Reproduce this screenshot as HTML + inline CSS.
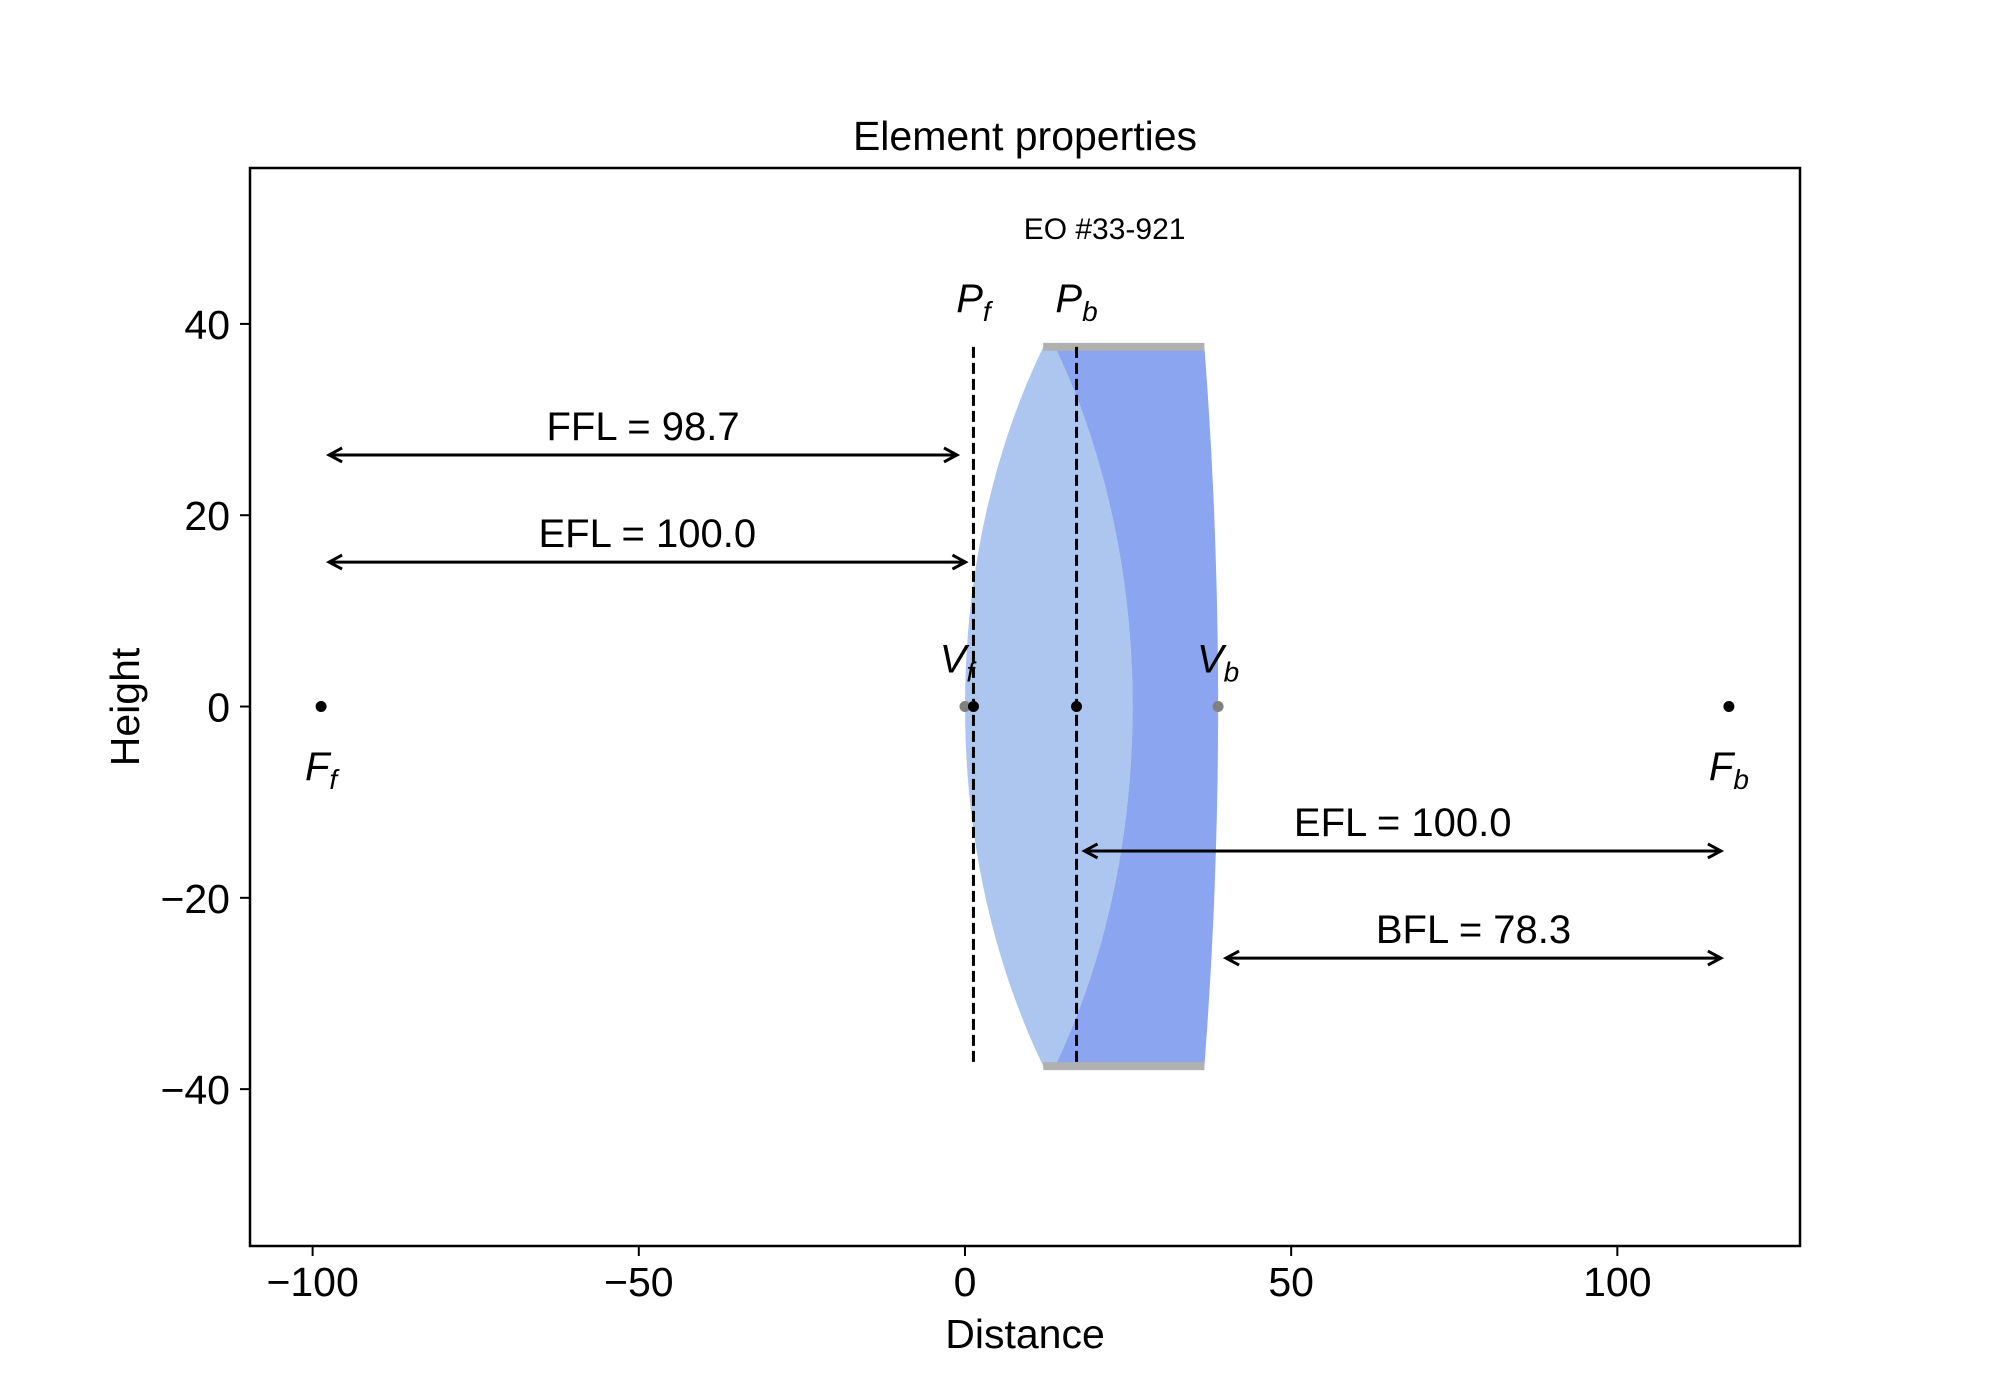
<!DOCTYPE html>
<html><head><meta charset="utf-8">
<style>
html,body{margin:0;padding:0;background:#fff;}
svg{display:block;font-family:"Liberation Sans",sans-serif;}
</style></head>
<body>
<svg id="chart" width="2000" height="1400" viewBox="0 0 2000 1400" xmlns="http://www.w3.org/2000/svg">
<rect x="0" y="0" width="2000" height="1400" fill="#fff"/>
<g id="plot"></g>
</svg>
<script>
// ---- data ----
const xTicks = [-100, -50, 0, 50, 100];
const yTicks = [-40, -20, 0, 20, 40];
const xLim = [-109.6, 128.0];
const yLim = [-56.4, 56.3];
// cardinal points (x positions)
const pointNames = ["Ff", "Vf", "Pf", "Pb", "Vb", "Fb"];
const pointX = [-98.7, 0.0, 1.3, 17.1, 38.8, 117.1];
const pointColor = ["black", "gray", "black", "black", "gray", "black"];
// lens surfaces: vertex x, edge x
const surfVertex = [0.0, 25.7, 38.8];
const surfEdge = [12.0, 13.8, 36.7];
const lensHalfHeight = 37.6;
// distance arrows
const arrowLabels = ["FFL = 98.7", "EFL = 100.0", "EFL = 100.0", "BFL = 78.3"];
const arrowStart = [-98.7, -98.7, 17.1, 38.8];
const arrowEnd = [0.0, 1.3, 117.1, 117.1];
const arrowY = [26.3, 15.1, -15.1, -26.3];

// ---- axes ----
const L = 250, R = 1800, T = 168, B = 1246;
const sx = v => L + (v - xLim[0]) / (xLim[1] - xLim[0]) * (R - L);
const sy = v => B - (v - yLim[0]) / (yLim[1] - yLim[0]) * (B - T);
const NS = "http://www.w3.org/2000/svg";
const g = document.getElementById('plot');
function mk(tag, attrs, parent) {
  const e = document.createElementNS(NS, tag);
  for (const k in attrs) e.setAttribute(k, attrs[k]);
  (parent || g).appendChild(e);
  return e;
}

// lens regions
function surfPts(i, flip) {
  const v = surfVertex[i], e = surfEdge[i], h = lensHalfHeight;
  const s = e - v; // signed sag
  const Rr = (h * h + s * s) / (2 * s);
  const pts = [];
  const N = 40;
  for (let k = 0; k <= N; k++) {
    const y = flip ? (-h + 2 * h * k / N) : (h - 2 * h * k / N);
    const x = v + Rr - Math.sign(Rr) * Math.sqrt(Rr * Rr - y * y);
    pts.push(sx(x).toFixed(1) + "," + sy(y).toFixed(1));
  }
  return pts;
}
const light = surfPts(0, false).concat(surfPts(1, true));
const p1 = mk('polygon', {points: light.join(" "), fill: "#adc6f0"});


const dark = surfPts(1, false).concat(surfPts(2, true));
const p2 = mk('polygon', {points: dark.join(" "), fill: "#8ba5f0"});


[lensHalfHeight, -lensHalfHeight].forEach((h, i) => {
  const ln = mk('line', {x1: sx(surfEdge[0]), x2: sx(surfEdge[2]), y1: sy(h), y2: sy(h), stroke: "#b0b0b0", "stroke-width": 8});
  
  
});

// principal planes dashed
[2, 3].forEach(i => {
  const ln = mk('line', {x1: sx(pointX[i]), x2: sx(pointX[i]), y1: sy(lensHalfHeight), y2: sy(-lensHalfHeight), stroke: "#000", "stroke-width": 3, "stroke-dasharray": "11,5"});
  
  
});

// points
pointX.forEach((x, i) => {
  const c = mk('circle', {cx: sx(x), cy: sy(0), r: 5.5, fill: pointColor[i] === "gray" ? "#808080" : "#000"});
  
  
});

// point labels
const labelY = {Ff: -6.2, Fb: -6.2, Vf: 5.0, Vb: 5.0, Pf: 42.7, Pb: 42.7};
pointNames.forEach((n, i) => {
  const t = mk('text', {x: sx(pointX[i]) - (n === "Vf" ? 8 : 0), y: sy(labelY[n]) + 14, "font-size": 40, "font-style": "italic", "text-anchor": "middle"});
  
  
  const a = document.createElementNS(NS, 'tspan'); a.textContent = n[0]; t.appendChild(a);
  const b = document.createElementNS(NS, 'tspan'); b.setAttribute('font-size', 28); b.setAttribute('dy', 9); b.textContent = n[1]; t.appendChild(b);
});

// arrows
arrowLabels.forEach((lab, i) => {
  const y = sy(arrowY[i]);
  const x1 = sx(arrowStart[i]) + 8, x2 = sx(arrowEnd[i]) - 8;
  const grp = mk('g', {});
  
  
  mk('line', {x1: x1, x2: x2, y1: y, y2: y, stroke: "#000", "stroke-width": 3}, grp);
  mk('polyline', {points: `${x1+13},${y-7} ${x1},${y} ${x1+13},${y+7}`, fill: "none", stroke: "#000", "stroke-width": 3}, grp);
  mk('polyline', {points: `${x2-13},${y-7} ${x2},${y} ${x2-13},${y+7}`, fill: "none", stroke: "#000", "stroke-width": 3}, grp);
  const t = mk('text', {x: (sx(arrowStart[i]) + sx(arrowEnd[i])) / 2, y: y - 15, "font-size": 40, "text-anchor": "middle"});
  
  
  t.textContent = lab;
});

// element label
const eo = mk('text', {x: sx(21.4), y: sy(49.9) + 10, "font-size": 30, "text-anchor": "middle"});


eo.textContent = "EO #33-921";

// frame
const fr = mk('rect', {x: L, y: T, width: R - L, height: B - T, fill: "none", stroke: "#000", "stroke-width": 2.5});



// ticks
xTicks.forEach(v => {
  const x = sx(v);
  const tk = mk('line', {x1: x, x2: x, y1: B, y2: B + 10, stroke: "#000", "stroke-width": 2});
  
  
  const t = mk('text', {x: x, y: B + 50, "font-size": 41, "text-anchor": "middle"});
  
  
  t.textContent = v < 0 ? "\u2212" + Math.abs(v) : String(v);
});
yTicks.forEach(v => {
  const y = sy(v);
  const tk = mk('line', {x1: L - 10, x2: L, y1: y, y2: y, stroke: "#000", "stroke-width": 2});
  
  
  const t = mk('text', {x: L - 20, y: y + 15, "font-size": 41, "text-anchor": "end"});
  
  
  t.textContent = v < 0 ? "\u2212" + Math.abs(v) : String(v);
});

// titles
const tt = mk('text', {x: (L + R) / 2, y: 150, "font-size": 41, "text-anchor": "middle"});


tt.textContent = "Element properties";
const xt = mk('text', {x: (L + R) / 2, y: 1348, "font-size": 41, "text-anchor": "middle"});


xt.textContent = "Distance";
const yt = mk('text', {x: 0, y: 0, "font-size": 41, "text-anchor": "middle", transform: `translate(139,${(T + B) / 2}) rotate(-90)`});


yt.textContent = "Height";
</script>
</body></html>
